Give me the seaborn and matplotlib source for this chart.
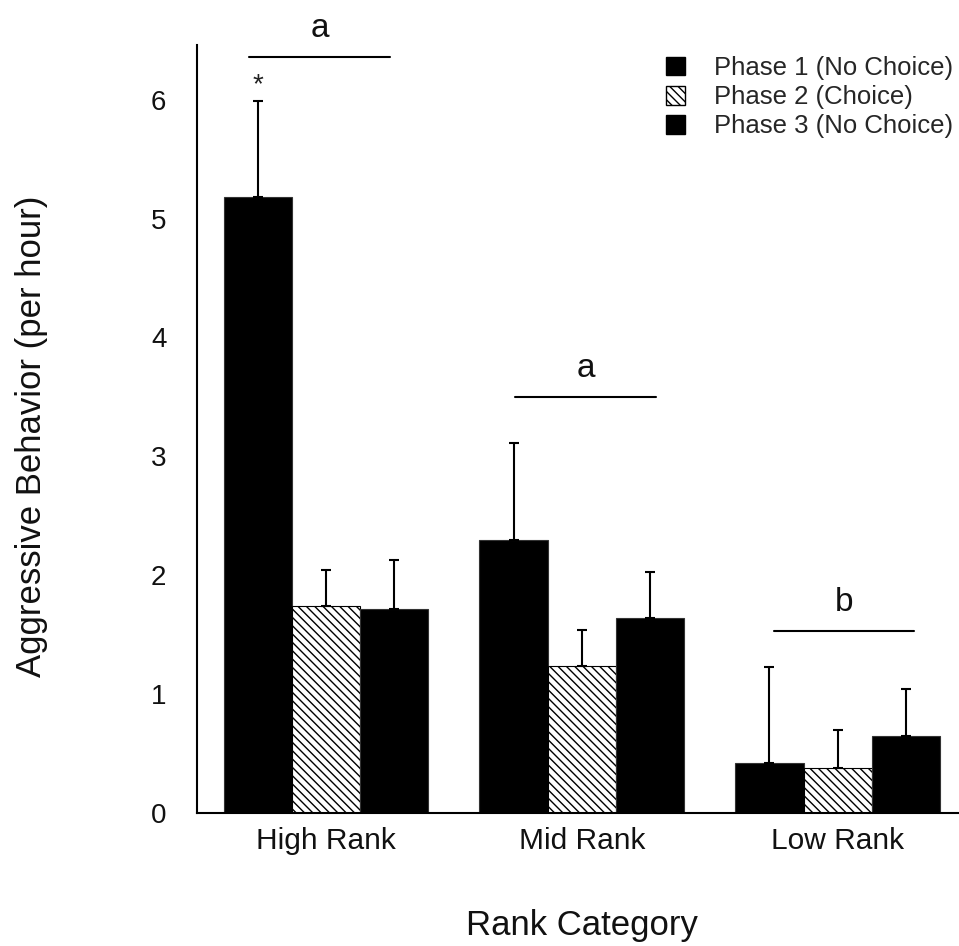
import matplotlib
matplotlib.use("Agg")
import matplotlib.pyplot as plt
from matplotlib.patches import Patch
import seaborn as sns
import pandas as pd

# Group categories and phases
ranks = ["High Rank", "Mid Rank", "Low Rank"]
phases = ["Phase 1 (No Choice)", "Phase 2 (Choice)", "Phase 3 (No Choice)"]

# Mean aggressive behaviour per hour (rows: phase, columns: rank)
phase1_means = [5.18, 2.30, 0.42]
phase2_means = [1.74, 1.24, 0.38]
phase3_means = [1.72, 1.64, 0.65]

# Upper error (SE) for each bar
phase1_err = [0.81, 0.81, 0.81]
phase2_err = [0.30, 0.30, 0.32]
phase3_err = [0.41, 0.39, 0.39]

# Significance group letters with their bracket heights
group_letters = ["a", "a", "b"]
bracket_heights = [6.36, 3.50, 1.53]

means = [phase1_means, phase2_means, phase3_means]
errs = [phase1_err, phase2_err, phase3_err]

rows = []
for p, m_list, e_list in zip(phases, means, errs):
    for r, m, e in zip(ranks, m_list, e_list):
        rows.append({"Rank": r, "Phase": p, "Value": m, "Err": e})
df = pd.DataFrame(rows)

sns.set_style("white")
plt.rcParams["font.family"] = ["Liberation Sans", "DejaVu Sans"]
plt.rcParams["hatch.linewidth"] = 1.0

fig = plt.figure(figsize=(9.59, 9.46), dpi=100)
ax = fig.add_axes([197 / 959, 1 - 813 / 946, (958 - 197) / 959, (813 - 45) / 946])

palette = {phases[0]: "black", phases[1]: "white", phases[2]: "black"}
sns.barplot(data=df, x="Rank", y="Value", hue="Phase", order=ranks,
            hue_order=phases, palette=palette, errorbar=None,
            edgecolor="#333333", linewidth=0.8, width=0.8, ax=ax,
            legend=False)

# Bars are added hue by hue; the middle phase gets the hatching
containers = ax.containers
for bar in containers[1]:
    bar.set_hatch("\\\\\\\\")
    bar.set_edgecolor("black")

# Upward-only error bars drawn from each bar's own position
for cont, e_list in zip(containers, errs):
    for bar, e in zip(cont, e_list):
        cx = bar.get_x() + bar.get_width() / 2
        h = bar.get_height()
        ax.errorbar([cx], [h], yerr=[[0], [e]], fmt="none", ecolor="black",
                    elinewidth=1.5, capsize=3.6, capthick=1.5, zorder=3)

# Significance brackets and letters
bracket_spans = [(-0.30, 0.25), (-0.26, 0.29), (-0.25, 0.30)]
for i, (letter, yb, (x0, x1)) in enumerate(zip(group_letters, bracket_heights,
                                                bracket_spans)):
    ax.plot([i + x0, i + x1], [yb, yb], color="black", lw=1.5,
            clip_on=False, zorder=4)
    ax.text(i + (x0 + x1) / 2, yb + 0.24, letter, ha="center", va="center",
            fontsize=24, color="#111111", clip_on=False)

# Asterisk above the High Rank Phase 1 error bar
b0 = containers[0][0]
ax.text(b0.get_x() + b0.get_width() / 2, b0.get_height() + phase1_err[0] + 0.13,
        "*", ha="center", va="center", fontsize=20, color="#222222")

ax.set_xlim(-0.504, 2.47)
ax.set_ylim(0, 6.46)
ax.set_yticks([0, 1, 2, 3, 4, 5, 6])
ax.tick_params(axis="both", length=0, colors="#111111")
ax.tick_params(axis="y", pad=22)
ax.tick_params(axis="x", pad=10)
for lab in ax.get_xticklabels():
    lab.set_fontsize(21.5)
for lab in ax.get_yticklabels():
    lab.set_fontsize(20)

for s in ["top", "right"]:
    ax.spines[s].set_visible(False)
for s in ["left", "bottom"]:
    ax.spines[s].set_linewidth(1.5)
    ax.spines[s].set_color("black")

ax.set_xlabel("Rank Category", fontsize=25, color="#111111")
ax.set_ylabel("Aggressive Behavior (per hour)", fontsize=25, color="#111111")
ax.xaxis.set_label_coords(0.506, -0.146)
ax.xaxis.label.set_verticalalignment("center")
ax.yaxis.set_label_coords(-0.217, 0.49)
ax.yaxis.label.set_verticalalignment("center")

handles = [Patch(facecolor="black", edgecolor="black"),
           Patch(facecolor="white", edgecolor="black", hatch="\\\\\\\\"),
           Patch(facecolor="black", edgecolor="black")]
fig.legend(handles, phases, loc="upper left",
           bbox_to_anchor=(666 / 959, 1 - 56 / 946), frameon=False,
           fontsize=18.5, handlelength=0.75, handleheight=0.75,
           handletextpad=1.1, labelspacing=0.2, borderpad=0,
           borderaxespad=0)

fig.savefig("out.png", dpi=100)
